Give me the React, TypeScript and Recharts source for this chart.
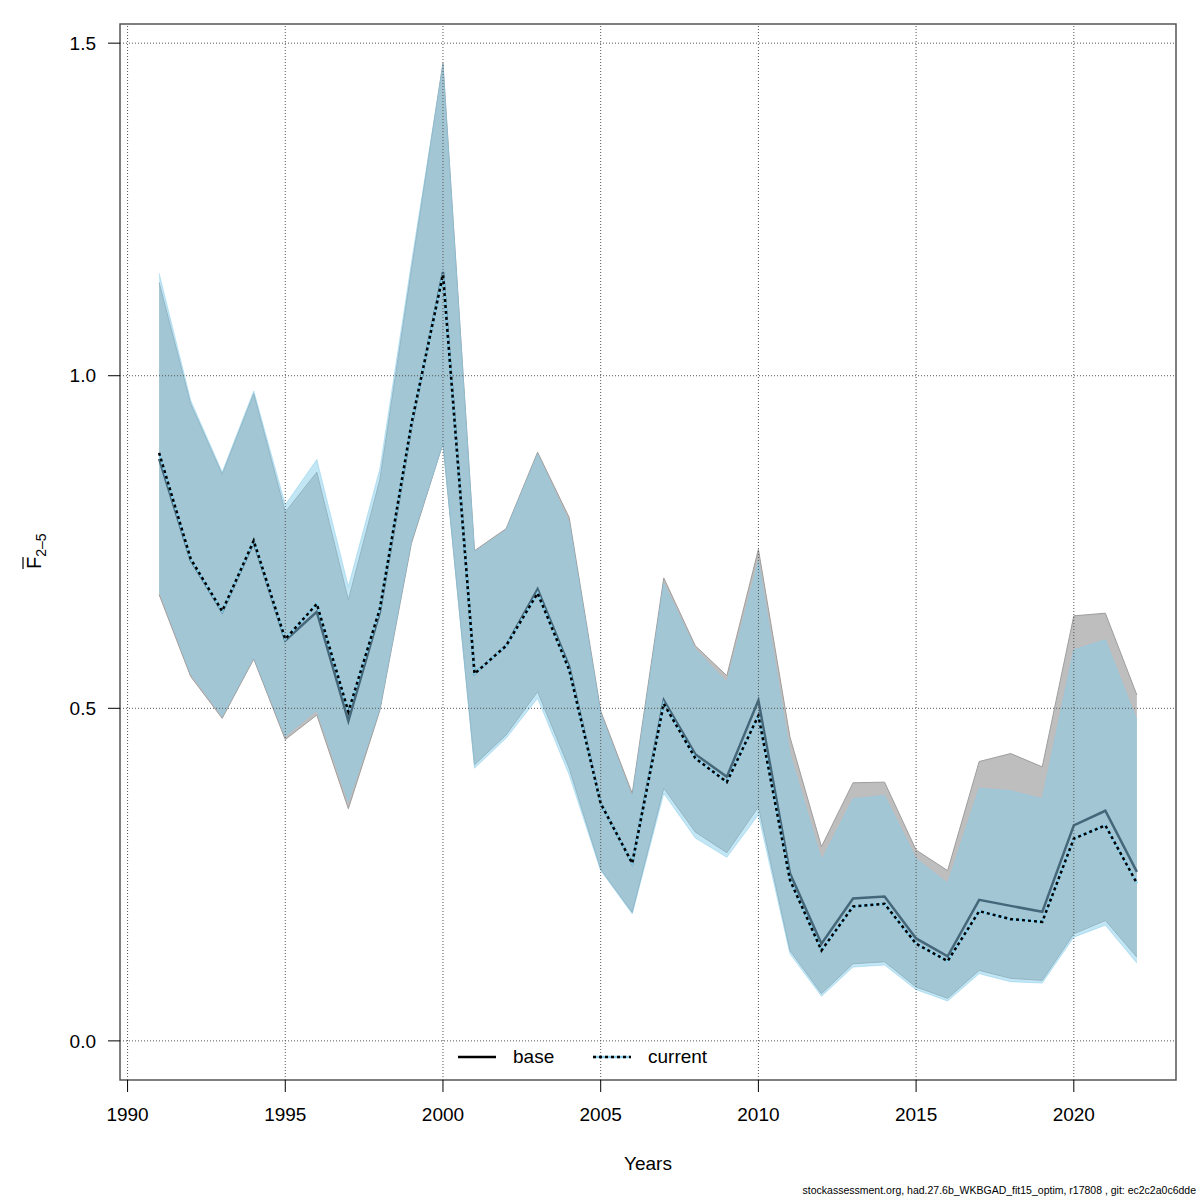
import React from "react";
import {
  ComposedChart,
  Area,
  Line,
  XAxis,
  YAxis,
  ReferenceLine,
  ReferenceArea,
} from "recharts";

// years and estimates
const years = [
  1991, 1992, 1993, 1994, 1995, 1996, 1997, 1998, 1999, 2000, 2001, 2002, 2003, 2004, 2005, 2006,
  2007, 2008, 2009, 2010, 2011, 2012, 2013, 2014, 2015, 2016, 2017, 2018, 2019, 2020, 2021, 2022,
];

const baseMid = [
  0.875, 0.723, 0.645, 0.75, 0.602, 0.645, 0.481, 0.645, 0.925, 1.156, 0.552, 0.594, 0.679, 0.563, 0.357, 0.267,
  0.512, 0.431, 0.397, 0.512, 0.252, 0.146, 0.214, 0.217, 0.154, 0.127, 0.212, 0.203, 0.194, 0.324, 0.346, 0.254,
];
const baseLow = [
  0.671, 0.548, 0.485, 0.574, 0.453, 0.49, 0.349, 0.497, 0.748, 0.898, 0.415, 0.46, 0.525, 0.41, 0.258, 0.193,
  0.38, 0.314, 0.283, 0.352, 0.136, 0.071, 0.116, 0.119, 0.081, 0.064, 0.106, 0.094, 0.091, 0.161, 0.181, 0.126,
];
const baseHigh = [
  1.14, 0.958, 0.852, 0.973, 0.795, 0.855, 0.663, 0.844, 1.16, 1.47, 0.737, 0.77, 0.885, 0.787, 0.496, 0.372,
  0.696, 0.594, 0.549, 0.739, 0.457, 0.292, 0.388, 0.389, 0.287, 0.256, 0.42, 0.432, 0.412, 0.639, 0.643, 0.52,
];

const curMid = [
  0.884, 0.725, 0.646, 0.752, 0.604, 0.657, 0.495, 0.65, 0.928, 1.152, 0.552, 0.594, 0.673, 0.558, 0.357, 0.267,
  0.507, 0.425, 0.389, 0.489, 0.242, 0.136, 0.202, 0.206, 0.146, 0.12, 0.195, 0.183, 0.179, 0.304, 0.324, 0.237,
];
const curLow = [
  0.677, 0.552, 0.488, 0.577, 0.458, 0.497, 0.36, 0.5, 0.752, 0.898, 0.41, 0.455, 0.515, 0.4, 0.256, 0.191,
  0.372, 0.305, 0.276, 0.34, 0.131, 0.067, 0.111, 0.114, 0.077, 0.06, 0.101, 0.089, 0.087, 0.156, 0.174, 0.117,
];
const curHigh = [
  1.154, 0.963, 0.855, 0.977, 0.806, 0.874, 0.683, 0.86, 1.17, 1.468, 0.735, 0.768, 0.882, 0.779, 0.492, 0.366,
  0.688, 0.589, 0.539, 0.721, 0.432, 0.272, 0.364, 0.369, 0.274, 0.237, 0.38, 0.376, 0.364, 0.588, 0.603, 0.482,
];

const xTicks = [1990, 1995, 2000, 2005, 2010, 2015, 2020];
const yTicks = [0, 0.5, 1, 1.5];
const legendItems = ["base", "current"];

const X_DOMAIN: [number, number] = [1989.76, 2023.24];
const Y_DOMAIN: [number, number] = [-0.0588, 1.5288];

const FONT = "'Liberation Sans', Arial, Helvetica, sans-serif";
const SKY = "#87CEEB";
// black base line seen through the half-transparent sky-blue band
const BASE_UNDER_BLUE = "#44677A";

const rows = years.map((year, i) => ({
  year,
  base: baseMid[i],
  baseRange: [baseLow[i], baseHigh[i]],
  current: curMid[i],
  curRange: [curLow[i], curHigh[i]],
}));

function LegendBox() {
  return (
    <div
      style={{
        position: "absolute",
        left: 458,
        top: 1045,
        width: 300,
        height: 30,
        fontFamily: FONT,
        fontSize: 19,
        color: "#000",
      }}
    >
      {legendItems.map((name, i) => {
        const left = i * 135;
        return (
          <div key={name} style={{ position: "absolute", left, top: 0, height: 30 }}>
            <svg width={40} height={30} style={{ position: "absolute", left: 0, top: 0 }}>
              {name === "base" ? (
                <line x1={0} x2={38} y1={12} y2={12} stroke="#000" strokeWidth={2.5} />
              ) : (
                <>
                  <line x1={0} x2={38} y1={12} y2={12} stroke={SKY} strokeWidth={2.5} />
                  <line x1={0} x2={38} y1={12} y2={12} stroke="#000" strokeWidth={2.5} strokeDasharray="3 3" />
                </>
              )}
            </svg>
            <span style={{ position: "absolute", left: 55, top: 0, lineHeight: "24px", whiteSpace: "nowrap" }}>
              {name}
            </span>
          </div>
        );
      })}
    </div>
  );
}

export default function App() {
  return (
    <div style={{ position: "absolute", left: 0, top: 0, width: 1200, height: 1200, background: "#fff", fontFamily: FONT }}>
      <ComposedChart width={1200} height={1200} data={rows} margin={{ top: 24, right: 24, left: 60, bottom: 60 }}>
        <XAxis
          dataKey="year"
          type="number"
          domain={X_DOMAIN}
          ticks={xTicks}
          allowDataOverflow
          axisLine={false}
          tickLine={{ stroke: "#000" }}
          tickSize={12}
          tickMargin={16}
          height={60}
          tick={{ fill: "#000", fontSize: 19, fontFamily: FONT }}
          label={{
            content: () => (
              <text x={648} y={1170} textAnchor="middle" fontSize={19} fontFamily={FONT} fill="#000">
                Years
              </text>
            ),
          }}
        />
        <YAxis
          type="number"
          domain={Y_DOMAIN}
          ticks={yTicks}
          allowDataOverflow
          axisLine={false}
          tickLine={{ stroke: "#000" }}
          tickSize={12}
          tickMargin={12}
          width={60}
          tickFormatter={(v: number) => v.toFixed(1)}
          tick={{ fill: "#000", fontSize: 19, fontFamily: FONT }}
          label={{
            content: () => (
              <g transform="translate(41,552) rotate(-90)">
                <text x={-17} y={0} fontSize={20} fontFamily={FONT} fill="#000">
                  F
                  <tspan fontSize={14} dy={5}>2–5</tspan>
                </text>
                <line x1={-17} x2={-5} y1={-18} y2={-18} stroke="#000" strokeWidth={1.2} />
              </g>
            ),
          }}
        />

        <Area
          dataKey="baseRange"
          type="linear"
          fill="#BEBEBE"
          fillOpacity={1}
          stroke="#9E9E9E"
          strokeWidth={1}
          dot={false}
          activeDot={false}
          isAnimationActive={false}
        />
        <Area
          dataKey="curRange"
          type="linear"
          fill={SKY}
          fillOpacity={0.5}
          stroke={SKY}
          strokeOpacity={0.5}
          strokeWidth={1}
          dot={false}
          activeDot={false}
          isAnimationActive={false}
        />
        <Line
          dataKey="base"
          type="linear"
          stroke={BASE_UNDER_BLUE}
          strokeWidth={2.5}
          dot={false}
          activeDot={false}
          isAnimationActive={false}
        />
        <Line
          dataKey="current"
          type="linear"
          stroke={SKY}
          strokeWidth={2.5}
          dot={false}
          activeDot={false}
          isAnimationActive={false}
        />
        <Line
          dataKey="current"
          type="linear"
          stroke="#000"
          strokeWidth={2.5}
          strokeDasharray="3 3"
          dot={false}
          activeDot={false}
          isAnimationActive={false}
        />

        {xTicks.map((t) => (
          <ReferenceLine key={`gx${t}`} x={t} stroke="#555" strokeDasharray="1 2" strokeWidth={1} />
        ))}
        {yTicks.map((t) => (
          <ReferenceLine key={`gy${t}`} y={t} stroke="#555" strokeDasharray="1 2" strokeWidth={1} />
        ))}
        <ReferenceArea
          x1={X_DOMAIN[0]}
          x2={X_DOMAIN[1]}
          y1={Y_DOMAIN[0]}
          y2={Y_DOMAIN[1]}
          fill="none"
          fillOpacity={0}
          stroke="#555"
          strokeWidth={1.5}
          ifOverflow="visible"
        />
      </ComposedChart>
      <LegendBox />
      <div
        style={{
          position: "absolute",
          right: 4,
          top: 1184,
          fontSize: 10.5,
          fontFamily: FONT,
          color: "#000",
          whiteSpace: "nowrap",
        }}
      >
        stockassessment.org, had.27.6b_WKBGAD_fit15_optim, r17808 , git: ec2c2a0c6dde
      </div>
    </div>
  );
}
